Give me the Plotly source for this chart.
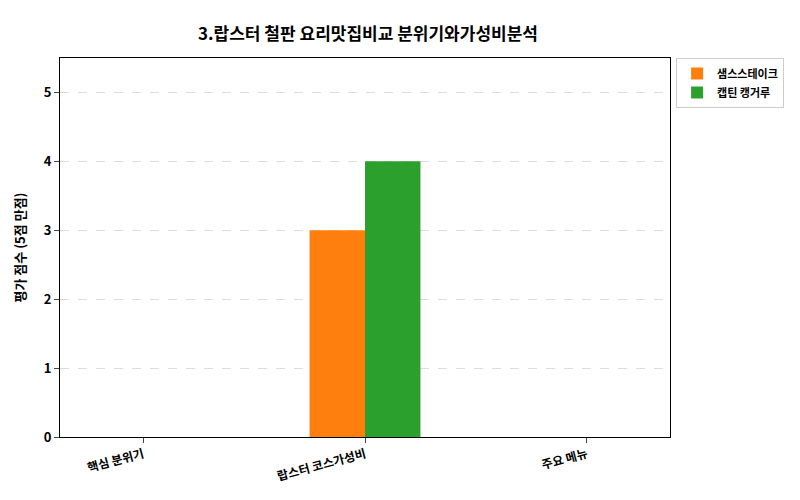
import plotly.graph_objects as go

categories = ["핵심 분위기", "랍스터 코스가성비", "주요 메뉴"]
sams = [0, 3, 0]
captain = [0, 4, 0]
font = "Noto Sans CJK KR"

fig = go.Figure()
fig.add_trace(go.Bar(x=categories, y=sams, name="<b>샘스스테이크</b>", marker_color="#ff7f0e",
                     marker_line_width=0))
fig.add_trace(go.Bar(x=categories, y=captain, name="<b>캡틴 캥거루</b>", marker_color="#2ca02c",
                     marker_line_width=0))

fig.update_layout(
    width=800, height=500,
    font=dict(family=font, size=12, color="black"),
    title=dict(text="<b>3.랍스터 철판 요리맛집비교 분위기와가성비분석</b>", x=0.45, xanchor="center",
               y=0.96, font=dict(size=17)),
    barmode="group", bargap=0.5, bargroupgap=0,
    plot_bgcolor="white", paper_bgcolor="white",
    margin=dict(l=48, r=138, t=50, b=71),
    legend=dict(x=1.01, y=1, xanchor="left", yanchor="top", bordercolor="#cccccc", borderwidth=1,
                font=dict(size=11), tracegroupgap=0),
    xaxis=dict(type="category", range=[-0.375, 2.375], showline=True, linecolor="black", mirror=True,
               ticks="outside", tickangle=-15, tickfont=dict(size=12, weight="bold")),
    yaxis=dict(range=[0, 5.5], dtick=1, showline=True, linecolor="black", mirror=True, ticks="outside",
               showgrid=True, gridcolor="#dddddd", griddash="dash", zeroline=False,
               title=dict(text="<b>평가 점수 (5점 만점)</b>", font=dict(size=13)),
               tickfont=dict(size=13, weight="bold")),
)

fig.write_html("out.html")
